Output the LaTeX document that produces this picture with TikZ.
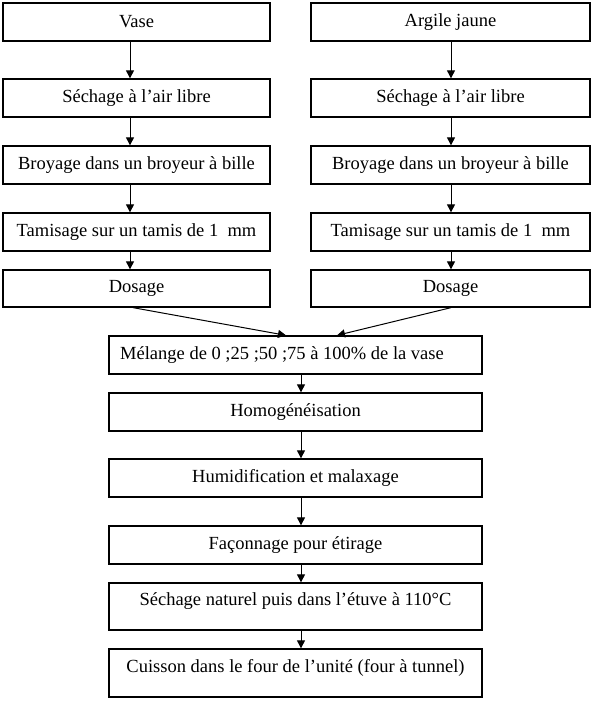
\documentclass[tikz,border=0pt]{standalone}
\usepackage{fontspec}
\setmainfont{Liberation Serif}
\usetikzlibrary{arrows.meta}
\frenchspacing
\begin{document}
\begin{tikzpicture}[x=1pt,y=-1pt,
  box/.style={draw, line width=1.3pt, inner sep=0pt, font=\fontsize{18.5}{22}\selectfont},
  lbox/.style={box, minimum width=267pt, minimum height=38pt},
  rbox/.style={box, minimum width=279pt, minimum height=38pt},
  cbox/.style={box, minimum width=373pt, minimum height=38pt},
  tallbox/.style={cbox, text height=12pt, text depth=14pt},
  arr/.style={-{Triangle[length=8pt,width=8pt]}, line width=1pt}]
\useasboundingbox (0,0) rectangle (599,711);
% left column
\node[lbox] (l1) at (136.5,22) {Vase};
\node[lbox] (l2) at (136.5,98) {Séchage à l’air libre};
\node[lbox] (l3) at (136.5,165) {Broyage dans un broyeur à bille};
\node[lbox] (l4) at (136.5,232) {Tamisage sur un tamis de 1\ \ mm};
\node[lbox, minimum height=37pt] (l5) at (136.5,288.5) {Dosage};
% right column
\node[rbox] (r1) at (450.5,22) {Argile jaune};
\node[rbox] (r2) at (450.5,98) {Séchage à l’air libre};
\node[rbox] (r3) at (450.5,165) {Broyage dans un broyeur à bille};
\node[rbox] (r4) at (450.5,232) {Tamisage sur un tamis de 1\ \ mm};
\node[rbox, minimum height=37pt] (r5) at (450.5,288.5) {Dosage};
% centre column
\node[cbox] (c1) at (295.5,355) {Mélange de 0 ;25 ;50 ;75 à 100\% de la vase\hspace*{27pt}};
\node[cbox] (c2) at (295.5,412) {Homogénéisation};
\node[cbox] (c3) at (295.5,478) {Humidification et malaxage};
\node[cbox] (c4) at (295.5,545) {Façonnage pour étirage};
\node[tallbox, minimum height=47pt] (c5) at (295.5,606.5) {Séchage naturel puis dans l’étuve à 110°C};
\node[tallbox, minimum height=48pt] (c6) at (295.5,673) {Cuisson dans le four de l’unité (four à tunnel)};
% arrow columns
\coordinate (lx) at (130,0);
\coordinate (rx) at (451,0);
\coordinate (cx) at (301,0);
\coordinate (e1) at (286,0);
\coordinate (e2) at (337,0);
\foreach \a/\b in {l1/l2,l2/l3,l3/l4,l4/l5}
  \draw[arr] (\a.south -| lx) -- (\b.north -| lx);
\foreach \a/\b in {r1/r2,r2/r3,r3/r4,r4/r5}
  \draw[arr] (\a.south -| rx) -- (\b.north -| rx);
\foreach \a/\b in {c1/c2,c2/c3,c3/c4,c4/c5,c5/c6}
  \draw[arr] (\a.south -| cx) -- (\b.north -| cx);
\draw[arr] (l5.south -| 133,0) -- (c1.north -| e1);
\draw[arr] (r5.south -| rx) -- (c1.north -| e2);
\end{tikzpicture}
\end{document}
